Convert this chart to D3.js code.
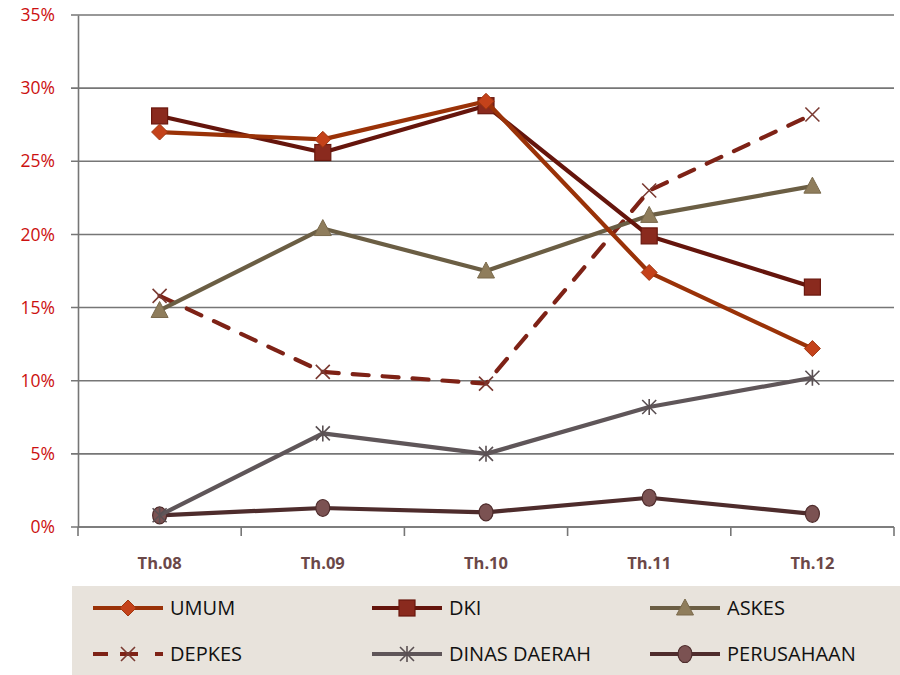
<!DOCTYPE html>
<html>
<head>
<meta charset="utf-8">
<script src="https://cdn.jsdelivr.net/npm/d3@7"></script>
<style>
  html, body { margin: 0; padding: 0; background: #fff; }
  svg { display: block; }
</style>
</head>
<body>
<div id="chart"></div>
<script>
// Categories and series values (shares, in percent)
const categories = ["Th.08", "Th.09", "Th.10", "Th.11", "Th.12"];
const umum        = [27.0, 26.5, 29.1, 17.4, 12.2];
const dki         = [28.1, 25.6, 28.8, 19.9, 16.4];
const askes       = [14.8, 20.4, 17.5, 21.3, 23.3];
const depkes      = [15.8, 10.6, 9.8, 23.0, 28.2];
const dinasDaerah = [0.8, 6.4, 5.0, 8.2, 10.2];
const perusahaan  = [0.8, 1.3, 1.0, 2.0, 0.9];
const yTicks = [0, 5, 10, 15, 20, 25, 30, 35];

const series = [
  { name: "UMUM", values: umum, line: "#9a3208", fill: "#c4421a", stroke: "#a0360f", marker: "diamond", dash: null },
  { name: "DKI", values: dki, line: "#65150c", fill: "#8a2a1e", stroke: "#6a180e", marker: "square", dash: null },
  { name: "ASKES", values: askes, line: "#6b5e44", fill: "#8f7d5c", stroke: "#7a6a4c", marker: "triangle", dash: null },
  { name: "DEPKES", values: depkes, line: "#7e2216", fill: "none", stroke: "#7a3a32", marker: "x", dash: "16,14" },
  { name: "DINAS DAERAH", values: dinasDaerah, line: "#5f5659", fill: "none", stroke: "#5a5053", marker: "star", dash: null },
  { name: "PERUSAHAAN", values: perusahaan, line: "#4e2c2c", fill: "#7b5252", stroke: "#4e2c2c", marker: "circle", dash: null }
];

const W = 900, H = 675;
const margin = { left: 78, right: 6, top: 15, bottom: 148 };
const svg = d3.select("#chart").append("svg").attr("width", W).attr("height", H);

const x = d3.scaleBand().domain(categories).range([margin.left, W - margin.right]).padding(0);
const y = d3.scaleLinear().domain([0, 35]).range([H - margin.bottom, margin.top]);
const cx = c => x(c) + x.bandwidth() / 2;

// Horizontal gridlines
svg.append("g").selectAll("line").data(yTicks).join("line")
  .attr("x1", margin.left - 7).attr("x2", W - margin.right)
  .attr("y1", d => y(d)).attr("y2", d => y(d))
  .attr("stroke", "#767676").attr("stroke-width", 1.6);

// Y axis
const yAxis = svg.append("g").attr("transform", `translate(${margin.left},0)`)
  .call(d3.axisLeft(y).tickValues(yTicks).tickFormat(d => d + "%").tickSize(0).tickPadding(23));
yAxis.select(".domain").attr("stroke", "#767676").attr("stroke-width", 1.6);
yAxis.selectAll("text").attr("fill", "#cc1010").style("font-family", "'Open Sans', sans-serif").style("font-size", "17.5px");

// X axis with tick marks between categories
const xAxisY = y(0);
const xg = svg.append("g").attr("transform", `translate(0,${xAxisY})`);
xg.append("line").attr("x1", margin.left).attr("x2", W - margin.right).attr("y1", 0).attr("y2", 0)
  .attr("stroke", "#767676").attr("stroke-width", 1.6);
const bounds = categories.map(c => x(c)).concat([x(categories[categories.length - 1]) + x.bandwidth()]);
xg.selectAll("line.tk").data(bounds).join("line").attr("class", "tk")
  .attr("x1", d => d).attr("x2", d => d).attr("y1", 0).attr("y2", 9)
  .attr("stroke", "#767676").attr("stroke-width", 1.6);
xg.selectAll("text").data(categories).join("text")
  .attr("x", d => cx(d)).attr("y", 42).attr("text-anchor", "middle")
  .attr("fill", "#6b4848").style("font-family", "'Open Sans', sans-serif")
  .style("font-size", "16.5px").style("font-weight", "bold").text(d => d);

// Marker drawing
function drawMarker(g, type, s, px, py, scale = 1) {
  const r = 7 * scale;
  if (type === "diamond") {
    g.append("path").attr("d", `M${px},${py - r - 1}L${px + r + 1},${py}L${px},${py + r + 1}L${px - r - 1},${py}Z`)
      .attr("fill", s.fill).attr("stroke", s.stroke).attr("stroke-width", 1);
  } else if (type === "square") {
    g.append("rect").attr("x", px - r - 1).attr("y", py - r - 1).attr("width", 2 * r + 2).attr("height", 2 * r + 2)
      .attr("fill", s.fill).attr("stroke", s.stroke).attr("stroke-width", 1.2);
  } else if (type === "triangle") {
    g.append("path").attr("d", `M${px},${py - r - 2}L${px + r + 1.5},${py + r}L${px - r - 1.5},${py + r}Z`)
      .attr("fill", s.fill).attr("stroke", s.stroke).attr("stroke-width", 1);
  } else if (type === "x") {
    g.append("path").attr("d", `M${px - r},${py - r}L${px + r},${py + r}M${px + r},${py - r}L${px - r},${py + r}`)
      .attr("stroke", s.stroke).attr("stroke-width", 1.6).attr("fill", "none");
  } else if (type === "star") {
    g.append("path").attr("d", `M${px - r},${py - r}L${px + r},${py + r}M${px + r},${py - r}L${px - r},${py + r}M${px},${py - r - 1}L${px},${py + r + 1}`)
      .attr("stroke", s.stroke).attr("stroke-width", 1.6).attr("fill", "none");
  } else if (type === "circle") {
    g.append("ellipse").attr("cx", px).attr("cy", py).attr("rx", r).attr("ry", r + 1.5)
      .attr("fill", s.fill).attr("stroke", s.stroke).attr("stroke-width", 1.2);
  }
}

const line = d3.line().x((d, i) => cx(categories[i])).y(d => y(d));

// Draw series in reverse order so UMUM sits on top
const plot = svg.append("g");
[...series].reverse().forEach(s => {
  const g = plot.append("g");
  g.append("path").datum(s.values).attr("d", line)
    .attr("fill", "none").attr("stroke", s.line).attr("stroke-width", 4.2)
    .attr("stroke-linecap", s.dash ? "round" : "butt").attr("stroke-linejoin", "round")
    .attr("stroke-dasharray", s.dash);
  s.values.forEach((v, i) => drawMarker(g, s.marker, s, cx(categories[i]), y(v)));
});

// Legend
const lg = svg.append("g");
lg.append("rect").attr("x", 72).attr("y", 586).attr("width", 828).attr("height", 89).attr("fill", "#e8e3dc");
const colX = [93, 372, 650];
const rowY = [608, 654];
series.forEach((s, i) => {
  const lx = colX[i % 3], ly = rowY[Math.floor(i / 3)];
  const g = lg.append("g");
  g.append("line").attr("x1", lx).attr("x2", lx + 70).attr("y1", ly).attr("y2", ly)
    .attr("stroke", s.line).attr("stroke-width", 4.2)
    .attr("stroke-dasharray", s.dash ? "15,12,18,17,8,100" : null).attr("stroke-linecap", "butt");
  drawMarker(g, s.marker, s, lx + 35, ly);
  g.append("text").attr("x", lx + 77).attr("y", ly + 7)
    .attr("fill", "#111").style("font-family", "'Liberation Sans Narrow', 'Open Sans', sans-serif")
    .style("font-size", "20px").text(s.name);
});
</script>
</body>
</html>
